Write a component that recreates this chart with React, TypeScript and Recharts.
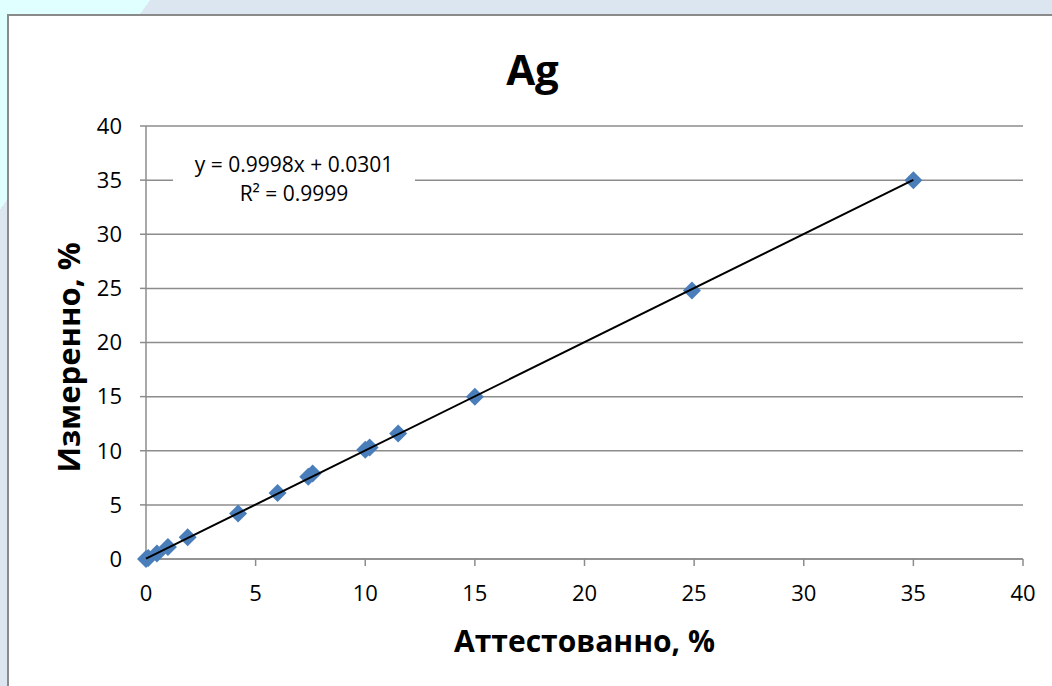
import React from "react";
import { ScatterChart, Scatter, XAxis, YAxis, CartesianGrid } from "recharts";

const xTicks = [0, 5, 10, 15, 20, 25, 30, 35, 40];
const yTicks = [0, 5, 10, 15, 20, 25, 30, 35, 40];

// Аттестованно (x) vs Измеренно (y)
const certified = [0, 0.1, 0.5, 1.0, 1.9, 4.2, 6.0, 7.4, 7.6, 10.0, 10.2, 11.5, 15.0, 24.9, 35.0];
const measured = [0, 0.1, 0.5, 1.1, 2.0, 4.2, 6.1, 7.6, 7.9, 10.1, 10.3, 11.6, 15.0, 24.8, 35.0];

const slope = 0.9998;
const intercept = 0.0301;

const points = certified.map((x, i) => ({ x, y: measured[i] }));
const xMax = Math.max(...certified);
const trend = [
    { x: 0, y: intercept },
    { x: xMax, y: slope * xMax + intercept },
];

const FONT = "'Open Sans', 'Noto Sans', sans-serif";
const GRID = "#8c8c8c";

const Diamond = (props: any) => {
    const { cx, cy } = props;
    const r = 9;
    return (
        <polygon
            points={`${cx},${cy - r} ${cx + r},${cy} ${cx},${cy + r} ${cx - r},${cy}`}
            fill="#4a7ebb"
        />
    );
};

const App: React.FC = () => {
    return (
        <div
            style={{
                position: "fixed",
                left: 0,
                top: 0,
                width: 1052,
                height: 686,
                overflow: "hidden",
                background: "linear-gradient(125.6deg, #e0ffff 122px, #dce6f1 122px)",
                fontFamily: FONT,
            }}
        >
            <div
                style={{
                    position: "absolute",
                    left: 7,
                    top: 14,
                    width: 1070,
                    height: 700,
                    background: "#fff",
                    border: "2px solid #8a8a8a",
                }}
            />
            <div
                style={{
                    position: "absolute",
                    left: 0,
                    top: 40,
                    width: 1065,
                    textAlign: "center",
                    fontSize: 42,
                    fontWeight: 700,
                    color: "#000",
                }}
            >
                Ag
            </div>
            <div style={{ position: "absolute", left: 0, top: 0 }}>
                <ScatterChart
                    width={1052}
                    height={686}
                    margin={{ top: 126, right: 29, bottom: 67, left: 0 }}
                >
                    <CartesianGrid vertical={false} stroke={GRID} strokeWidth={1.5} />
                    <XAxis
                        type="number"
                        dataKey="x"
                        domain={[0, 40]}
                        ticks={xTicks}
                        interval={0}
                        height={60}
                        axisLine={{ stroke: GRID, strokeWidth: 1.5 }}
                        tickLine={{ stroke: GRID, strokeWidth: 1.5 }}
                        tickSize={7}
                        tickMargin={19}
                        tick={{ fontSize: 22, fill: "#000", fontFamily: FONT }}
                        label={{
                            content: (p: any) => {
                                const vb = p.viewBox;
                                return (
                                    <text
                                        x={vb.x + vb.width / 2}
                                        y={vb.y + 81}
                                        textAnchor="middle"
                                        dominantBaseline="central"
                                        fontSize={30}
                                        fontWeight={700}
                                        fontFamily={FONT}
                                        fill="#000"
                                    >
                                        Аттестованно, %
                                    </text>
                                );
                            },
                        }}
                    />
                    <YAxis
                        type="number"
                        dataKey="y"
                        domain={[0, 40]}
                        ticks={yTicks}
                        interval={0}
                        width={146}
                        axisLine={{ stroke: GRID, strokeWidth: 1.5 }}
                        tickLine={{ stroke: GRID, strokeWidth: 1.5 }}
                        tickSize={6}
                        tickMargin={18}
                        tick={{ fontSize: 22, fill: "#000", fontFamily: FONT }}
                        label={{
                            content: (p: any) => {
                                const vb = p.viewBox;
                                const cx = 68;
                                const cy = vb.y + vb.height / 2 + 15;
                                return (
                                    <text
                                        x={cx}
                                        y={cy}
                                        transform={`rotate(-90 ${cx} ${cy})`}
                                        textAnchor="middle"
                                        dominantBaseline="central"
                                        fontSize={31}
                                        fontWeight={700}
                                        fontFamily={FONT}
                                        fill="#000"
                                    >
                                        Измеренно, %
                                    </text>
                                );
                            },
                        }}
                    />
                    <Scatter
                        data={points}
                        shape={Diamond}
                        isAnimationActive={false}
                    />
                    <Scatter
                        data={trend}
                        line={{ stroke: "#000", strokeWidth: 2 }}
                        shape={() => <g />}
                        isAnimationActive={false}
                    />
                </ScatterChart>
            </div>
            <div
                style={{
                    position: "absolute",
                    left: 173,
                    top: 150,
                    width: 242,
                    textAlign: "center",
                    background: "#fff",
                    fontSize: 21,
                    lineHeight: "29px",
                    color: "#000",
                }}
            >
                <div>y = 0.9998x + 0.0301</div>
                <div>R² = 0.9999</div>
            </div>
        </div>
    );
};

export default App;
